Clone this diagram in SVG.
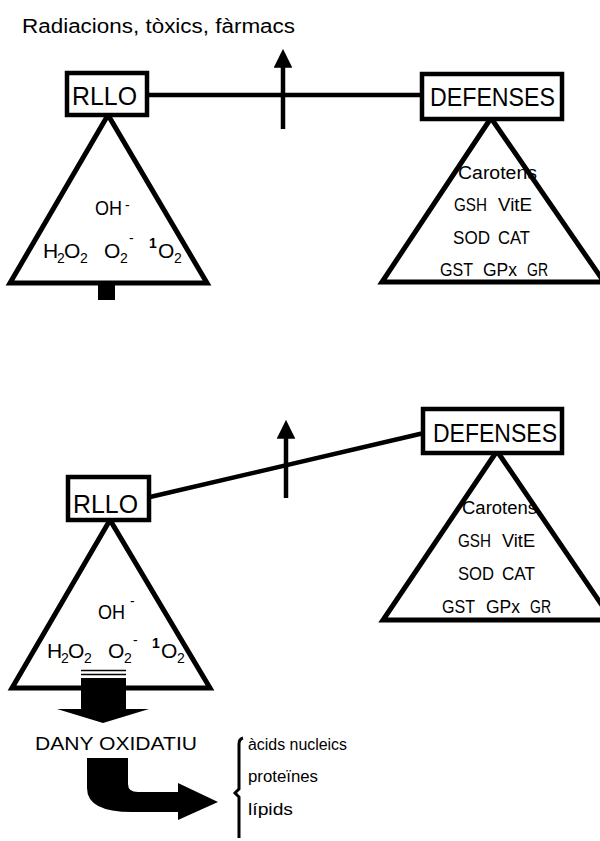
<svg xmlns="http://www.w3.org/2000/svg" width="600" height="841" viewBox="0 0 600 841">
<style>
text{font-family:"Liberation Sans",Arial,sans-serif;fill:#000}
.box{fill:#fff;stroke:#000;stroke-width:4.5}
.tri{fill:#fff;stroke:#000;stroke-width:5;stroke-linejoin:miter}
.ln{stroke:#000;stroke-width:4.5;fill:none}
.big{font-size:26px}
.w{font-size:18px}
.f{font-size:21px}
.s{font-size:14px}
</style>
<defs>
<marker id="ah" viewBox="0 0 10 10" refX="2" refY="5" markerWidth="4.2" markerHeight="4.2" orient="auto" markerUnits="strokeWidth">
<path d="M0,0 L10,5 L0,10 Z" fill="#000"/>
</marker>
</defs>
<rect width="600" height="841" fill="#fff"/>

<text id="title" x="22" y="33" font-size="20" textLength="273" lengthAdjust="spacingAndGlyphs">Radiacions, tòxics, fàrmacs</text>

<g id="connectors">
<line class="ln" x1="147" y1="95" x2="424" y2="95"/>
<line class="ln" x1="283" y1="129" x2="283" y2="64" stroke-width="4" marker-end="url(#ah)"/>
<line class="ln" x1="150" y1="497" x2="424" y2="433" stroke-width="5"/>
<line class="ln" x1="286" y1="498" x2="286" y2="435" stroke-width="4" marker-end="url(#ah)"/>
</g>

<g id="rllo-top">
<polygon class="tri" points="108,115 10,283 207,283"/>
<rect x="98" y="285" width="17" height="15" fill="#000"/>
<rect class="box" x="67" y="73" width="80" height="42"/>
<text class="big" x="72" y="105" font-size="27" textLength="65" lengthAdjust="spacingAndGlyphs">RLLO</text>
<text class="f"><tspan x="95" y="215" textLength="27" lengthAdjust="spacingAndGlyphs">OH</tspan><tspan class="s" x="125" y="210">-</tspan></text>
<text class="f"><tspan x="43" y="258">H</tspan><tspan class="s" x="57" y="263">2</tspan><tspan x="64" y="258">O</tspan><tspan class="s" x="80" y="263">2</tspan></text>
<text class="f"><tspan x="104" y="258">O</tspan><tspan class="s" x="120" y="263">2</tspan><tspan class="s" x="129" y="243">-</tspan></text>
<text class="f"><tspan class="s" x="149" y="248" font-weight="bold">1</tspan><tspan x="158" y="258">O</tspan><tspan class="s" x="174" y="263">2</tspan></text>
</g>

<g id="defenses-top">
<polygon class="tri" points="491,118 382,282 604,282"/>
<rect class="box" x="422" y="74" width="140" height="45"/>
<text class="big" x="430" y="106" textLength="125" lengthAdjust="spacingAndGlyphs">DEFENSES</text>
<text class="w" x="458" y="179" textLength="79" lengthAdjust="spacingAndGlyphs">Carotens</text>
<text class="w" x="454" y="211" textLength="33" lengthAdjust="spacingAndGlyphs">GSH</text>
<text class="w" x="498" y="211" textLength="34" lengthAdjust="spacingAndGlyphs">VitE</text>
<text class="w" x="453" y="244" textLength="37" lengthAdjust="spacingAndGlyphs">SOD</text>
<text class="w" x="498" y="244" textLength="32" lengthAdjust="spacingAndGlyphs">CAT</text>
<text class="w" x="440" y="276" textLength="33" lengthAdjust="spacingAndGlyphs">GST</text>
<text class="w" x="483" y="276" textLength="34" lengthAdjust="spacingAndGlyphs">GPx</text>
<text class="w" x="527" y="276" textLength="21" lengthAdjust="spacingAndGlyphs">GR</text>
</g>

<g id="rllo-bottom">
<polygon class="tri" points="110,520 12,688 210,688"/>
<rect class="box" x="68" y="477" width="81" height="43"/>
<text class="big" x="73" y="513" font-size="27" textLength="65" lengthAdjust="spacingAndGlyphs">RLLO</text>
<text class="f"><tspan x="98" y="619" textLength="27" lengthAdjust="spacingAndGlyphs">OH</tspan><tspan class="s" x="130" y="606">-</tspan></text>
<text class="f"><tspan x="47" y="658">H</tspan><tspan class="s" x="61" y="663">2</tspan><tspan x="68" y="658">O</tspan><tspan class="s" x="84" y="663">2</tspan></text>
<text class="f"><tspan x="108" y="658">O</tspan><tspan class="s" x="124" y="663">2</tspan><tspan class="s" x="133" y="645">-</tspan></text>
<text class="f"><tspan class="s" x="152" y="648" font-weight="bold">1</tspan><tspan x="161" y="658">O</tspan><tspan class="s" x="177" y="663">2</tspan></text>
<line x1="81" y1="670.5" x2="126" y2="670.5" stroke="#000" stroke-width="1.5"/>
<line x1="81" y1="674.5" x2="126" y2="674.5" stroke="#000" stroke-width="1.5"/>
</g>

<g id="defenses-bottom">
<polygon class="tri" points="497,451 383,620 612,620"/>
<rect class="box" x="423" y="409" width="139" height="44"/>
<text class="big" x="433" y="442" textLength="124" lengthAdjust="spacingAndGlyphs">DEFENSES</text>
<text class="w" x="462" y="514" textLength="75" lengthAdjust="spacingAndGlyphs">Carotens</text>
<text class="w" x="458" y="547" textLength="33" lengthAdjust="spacingAndGlyphs">GSH</text>
<text class="w" x="502" y="547" textLength="33" lengthAdjust="spacingAndGlyphs">VitE</text>
<text class="w" x="458" y="580" textLength="36" lengthAdjust="spacingAndGlyphs">SOD</text>
<text class="w" x="502" y="580" textLength="33" lengthAdjust="spacingAndGlyphs">CAT</text>
<text class="w" x="442" y="613" textLength="33" lengthAdjust="spacingAndGlyphs">GST</text>
<text class="w" x="486" y="613" textLength="34" lengthAdjust="spacingAndGlyphs">GPx</text>
<text class="w" x="530" y="613" textLength="21" lengthAdjust="spacingAndGlyphs">GR</text>
</g>

<g id="dany-arrow">
<path d="M81,678 L126,678 L126,709 L149,709 L103,723 L57,709 L81,709 Z" fill="#000"/>
</g>

<g id="dany">
<text x="35" y="750" font-size="19" textLength="162" lengthAdjust="spacingAndGlyphs">DANY OXIDATIU</text>
</g>

<g id="curved-arrow">
<path d="M87,758 L128,758 L128,784 Q128,792 138,792 L178,792 L178,783 L218,802 L178,820 L178,812 L132,812 Q87,812 87,788 Z" fill="#000"/>
</g>

<g id="targets">
<path d="M243,738 Q239,739 239,744 L239,789 L235,793 L239,797 L239,838" fill="none" stroke="#000" stroke-width="3"/>
<text x="248" y="750" font-size="16" textLength="99" lengthAdjust="spacingAndGlyphs">àcids nucleics</text>
<text x="248" y="782" font-size="16" textLength="70" lengthAdjust="spacingAndGlyphs">proteïnes</text>
<text x="248" y="815" font-size="16" textLength="45" lengthAdjust="spacingAndGlyphs">lípids</text>
</g>
</svg>
